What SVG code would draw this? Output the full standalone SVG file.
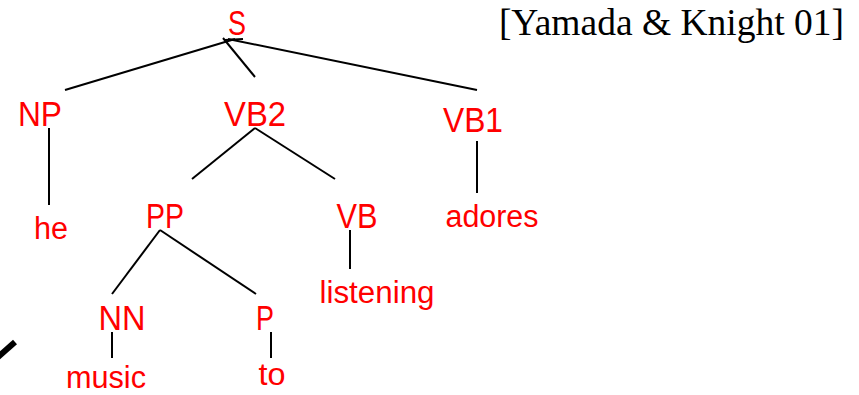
<svg xmlns="http://www.w3.org/2000/svg" width="859" height="395" viewBox="0 0 859 395">
<style>
.lbl{font-family:"Liberation Sans",Arial,sans-serif;font-size:35px;fill:#ff0000;text-anchor:middle}
.wd{font-family:"Liberation Sans",Arial,sans-serif;font-size:31px;fill:#ff0000;text-anchor:middle}
.cite{font-family:"Liberation Serif","Times New Roman",serif;font-size:37.5px;fill:#000;text-anchor:end}
.edge{stroke:#000;stroke-width:2;fill:none}
</style>
<rect width="859" height="395" fill="#fff"/>
<g id="connectors">
<line class="edge" x1="235" y1="39" x2="65" y2="90"/>
<line class="edge" x1="223" y1="38" x2="255" y2="77"/>
<line class="edge" x1="228" y1="39" x2="477" y2="90"/>
<line class="edge" x1="225" y1="40" x2="243" y2="39"/>
<line class="edge" x1="49" y1="128" x2="49" y2="205"/>
<line class="edge" x1="255" y1="128" x2="192" y2="179"/>
<line class="edge" x1="255" y1="128" x2="335" y2="179"/>
<line class="edge" x1="477" y1="141" x2="477" y2="193"/>
<line class="edge" x1="160" y1="230" x2="112" y2="294"/>
<line class="edge" x1="160" y1="230" x2="256" y2="294"/>
<line class="edge" x1="350" y1="230" x2="350" y2="269"/>
<line class="edge" x1="112" y1="332" x2="112" y2="358"/>
<line class="edge" x1="271" y1="332" x2="271" y2="358"/>
</g>
<line x1="-2" y1="357" x2="15" y2="342" stroke="#000" stroke-width="6"/>
<g id="S"><text class="lbl" x="237" y="35" textLength="18" lengthAdjust="spacingAndGlyphs">S</text></g>
<g id="NP"><text class="lbl" x="40" y="126" textLength="44" lengthAdjust="spacingAndGlyphs">NP</text></g>
<g id="VB2"><text class="lbl" x="255" y="126" textLength="62" lengthAdjust="spacingAndGlyphs">VB2</text></g>
<g id="VB1"><text class="lbl" x="473" y="132" textLength="60" lengthAdjust="spacingAndGlyphs">VB1</text></g>
<g id="he"><text class="wd" x="51" y="239" textLength="34" lengthAdjust="spacingAndGlyphs">he</text></g>
<g id="PP"><text class="lbl" x="165" y="228" textLength="38" lengthAdjust="spacingAndGlyphs">PP</text></g>
<g id="VB"><text class="lbl" x="357" y="228" textLength="41" lengthAdjust="spacingAndGlyphs">VB</text></g>
<g id="adores"><text class="wd" x="492" y="227" textLength="93" lengthAdjust="spacingAndGlyphs">adores</text></g>
<g id="listening"><text class="wd" x="377" y="303" textLength="115" lengthAdjust="spacingAndGlyphs">listening</text></g>
<g id="NN"><text class="lbl" x="122" y="330" textLength="47" lengthAdjust="spacingAndGlyphs">NN</text></g>
<g id="P"><text class="lbl" x="265" y="330" textLength="18" lengthAdjust="spacingAndGlyphs">P</text></g>
<g id="music"><text class="wd" x="106" y="388" textLength="80" lengthAdjust="spacingAndGlyphs">music</text></g>
<g id="to"><text class="wd" x="272" y="385" textLength="27" lengthAdjust="spacingAndGlyphs">to</text></g>
<g id="citation"><text class="cite" x="844" y="35">[Yamada &amp; Knight 01]</text></g>
</svg>
